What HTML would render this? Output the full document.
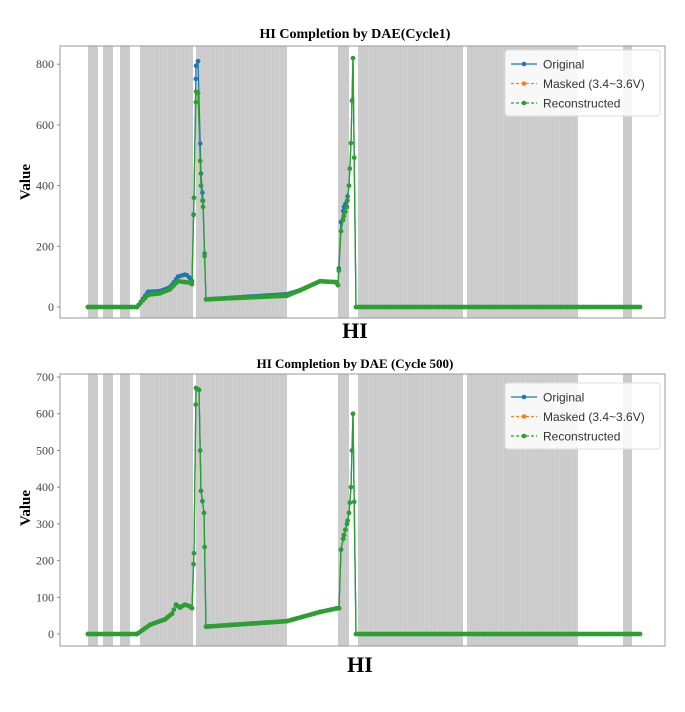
<!DOCTYPE html>
<html><head><meta charset="utf-8"><style>
html,body{margin:0;padding:0;background:#fff;width:685px;height:712px;overflow:hidden}
svg{display:block}
</style></head><body>
<svg id="s" width="685" height="712" xmlns="http://www.w3.org/2000/svg" font-family="Liberation Serif, serif">
<g id="p1"></g><g id="p2"></g>
<text x="355" y="38" font-size="14" font-weight="bold" text-anchor="middle">HI Completion by DAE(Cycle1)</text>
<text x="355" y="338" font-size="22" font-weight="bold" text-anchor="middle">HI</text>
<text x="355" y="368" font-size="13" font-weight="bold" text-anchor="middle">HI Completion by DAE (Cycle 500)</text>
<text x="360" y="672" font-size="22" font-weight="bold" text-anchor="middle">HI</text>
<text transform="translate(30,182) rotate(-90)" font-size="15" font-weight="bold" text-anchor="middle">Value</text>
<text transform="translate(30,508) rotate(-90)" font-size="15" font-weight="bold" text-anchor="middle">Value</text>
</svg>
<script>
var NS="http://www.w3.org/2000/svg";
function el(p,t,a){var e=document.createElementNS(NS,t);for(var k in a)e.setAttribute(k,a[k]);p.appendChild(e);return e;}
var bands=[[88,98],[103,113],[120,130],[140,193],[196,287],[338,349],[358,463],[467,578],[623,632]];
function interp(pts,x){for(var i=0;i<pts.length-1;i++){if(x>=pts[i][0]&&x<=pts[i+1][0]){var t=(x-pts[i][0])/(pts[i+1][0]-pts[i][0]||1);return pts[i][1]+t*(pts[i+1][1]-pts[i][1]);}}return 0;}
function draw(g,top,bot,y0,scale,ticks,step,green,blue,lg){
  bands.forEach(function(b){el(g,"rect",{x:b[0],y:top,width:b[1]-b[0],height:bot-top,fill:"#cbcbcb"});
    if(b[1]-b[0]>20){for(var x=b[0]+2;x<b[1];x+=4.3){el(g,"line",{x1:x,y1:top,x2:x,y2:bot,stroke:"#d4d4d4","stroke-width":0.6});}}});
  function Y(v){return y0-v*scale;}
  var xs=[];for(var x=88;x<=640;x+=2.2)xs.push(x);
  var keyx=[];green.forEach(function(p){keyx.push(p[0]);});
  var all=xs.concat(keyx).sort(function(a,b){return a-b;});
  [[blue,"#1f77b4"],[green,"#2ca02c"]].forEach(function(s){
    var pts=[];all.forEach(function(x){pts.push(x+","+Y(interp(s[0],x)).toFixed(1));});
    el(g,"polyline",{points:pts.join(" "),fill:"none",stroke:s[1],"stroke-width":1.3});
    all.forEach(function(x){el(g,"circle",{cx:x,cy:Y(interp(s[0],x)),r:2.3,fill:s[1]});});
  });
  el(g,"rect",{x:60,y:top,width:605,height:bot-top,fill:"none",stroke:"#999","stroke-width":1});
  for(var v=0;v<=ticks;v+=step){var y=Y(v);el(g,"line",{x1:57,y1:y,x2:60,y2:y,stroke:"#888"});
    var t=el(g,"text",{x:54,y:y+4,"font-size":12,"text-anchor":"end",fill:"#444"});t.textContent=v;}
  var lx=505,ly=lg;
  el(g,"rect",{x:lx,y:ly,width:155,height:66,fill:"#fff","fill-opacity":0.85,stroke:"#ddd",rx:3});
  var items=[["Original","#1f77b4",""],["Masked (3.4~3.6V)","#ff7f0e","3,2"],["Reconstructed","#2ca02c","3,2"]];
  items.forEach(function(it,i){var yy=ly+14+i*19.5;
    el(g,"line",{x1:lx+6,y1:yy,x2:lx+32,y2:yy,stroke:it[1],"stroke-width":1.3,"stroke-dasharray":it[2]});
    el(g,"circle",{cx:lx+19,cy:yy,r:2.3,fill:it[1]});
    var t=el(g,"text",{x:lx+38,y:yy+4.5,"font-size":12,"font-family":"Liberation Sans, sans-serif",fill:"#333"});t.textContent=it[0];});
}
var g1=[[88,0],[137,0],[148,40],[160,45],[170,58],[178,85],[190,80],[192,75],[194,360],[196,710],[198,705],[201,400],[203,330],[206,25],[287,37],[300,55],[320,85],[336,82],[338,72],[341,250],[344,300],[347,330],[349,400],[351,540],[353,820],[356,0],[640,0]];
var b1=[[88,0],[137,0],[148,50],[160,52],[170,65],[178,100],[186,108],[190,95],[192,85],[194,360],[196,795],[198,810],[201,440],[203,350],[206,25],[287,42],[300,55],[320,85],[336,82],[338,72],[341,280],[344,330],[347,350],[349,400],[351,540],[353,820],[356,0],[640,0]];
var g2=[[88,0],[137,0],[150,25],[165,40],[172,55],[176,80],[180,72],[185,80],[190,75],[192,70],[194,220],[196,670],[199,665],[201,390],[204,330],[206,20],[287,35],[320,60],[337,70],[339,70],[341,230],[344,270],[347,300],[349,330],[351,400],[353,600],[356,0],[640,0]];
draw(document.getElementById("p1"),46,318,307,0.3035,800,200,g1,b1,50);
draw(document.getElementById("p2"),374,646,634,0.3671,700,100,g2,g2,383);
</script>
</body></html>
